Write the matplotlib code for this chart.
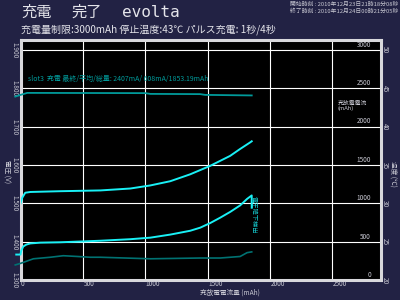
import matplotlib
matplotlib.use("Agg")
import matplotlib.pyplot as plt
import matplotlib.transforms as mtransforms

plt.rcParams['font.family'] = ['Noto Sans CJK JP', 'DejaVu Sans']

# ---- data ----
# voltage curve A (upper cyan)
cap_a = [0, 14, 38, 79, 319, 640, 880, 1040, 1200, 1360, 1440, 1520, 1600, 1680, 1760, 1840, 1853]
volt_a = [1.500, 1.515, 1.528, 1.530, 1.532, 1.534, 1.539, 1.547, 1.558, 1.576, 1.587,
          1.598, 1.611, 1.624, 1.642, 1.659, 1.662]

# voltage curve B (lower cyan), ends with the drop at detection
cap_b = [-34, 0, 6, 22, 47, 79, 159, 319, 640, 880, 1040, 1200, 1360, 1440, 1520,
         1600, 1680, 1760, 1816, 1853, 1853]
volt_b = [1.367, 1.367, 1.377, 1.388, 1.393, 1.396, 1.398, 1.399, 1.403, 1.407, 1.411,
          1.419, 1.429, 1.437, 1.449, 1.463, 1.478, 1.495, 1.512, 1.521, 1.489]

# charge current (teal)
cap_i = [-42, 0, 54, 1000, 1040, 1440, 1480, 1853]
current = [2392, 2414, 2440, 2437, 2427, 2424, 2414, 2407]

# temperature (dark teal)
cap_t = [-42, 0, 103, 239, 343, 455, 559, 640, 1040, 1440, 1600, 1760, 1816, 1853]
temp = [22.0, 22.2, 22.8, 23.0, 23.2, 23.1, 23.0, 23.0, 22.8, 22.9, 22.9, 23.1, 23.6, 23.7]

x_ticks = [0, 500, 1000, 1500, 2000, 2500]
v_ticks = [1.3, 1.4, 1.5, 1.6, 1.7, 1.8, 1.9]
i_ticks = [0, 500, 1000, 1500, 2000, 2500, 3000]
t_ticks = [20, 25, 30, 35, 40, 45, 50]

title_words = ["充電", "完了"]
title_en = "evolta"
subtitle = "充電量制限:3000mAh 停止温度:43℃ パルス充電: 1秒/4秒"
start_time = "開始時刻 : 2010年12月23日21時18分08秒"
end_time = "終了時刻 : 2010年12月24日00時21分05秒"
legend_txt = "slot3  充電 最終/平均/総量: 2407mA/ 608mA/1853.19mAh"
detect_txt = "電圧降下検出"

bg = '#222244'
fg = '#c8c8d2'
cyan = '#19f0f5'
teal = '#009a9a'
dteal = '#007272'

fig = plt.figure(figsize=(4, 3), dpi=100, facecolor=bg)
ax = fig.add_axes([0.05125, 0.0657, 0.9, 0.8])
ax.set_facecolor('black')
ax.set_xlim(0, 2885)
ax.set_ylim(1.3, 1.925)
ax.set_xticks([])
ax.set_yticks([])
for s in ax.spines.values():
    s.set_color('#d8d8dc')
    s.set_linewidth(2.2)
for xv in x_ticks[1:]:
    ax.axvline(xv, color='white', lw=0.8, zorder=1)
for yv in v_ticks[1:]:
    ax.axhline(yv, color='white', lw=0.8, zorder=1)

ax_i = ax.twinx()
ax_i.set_ylim(0, 3000 * 0.625 / 0.6)
ax_t = ax.twinx()
ax_t.set_ylim(20, 20 + 30 * 0.625 / 0.6)
for a in (ax_i, ax_t):
    a.set_yticks([])
    for s in a.spines.values():
        s.set_visible(False)

ax.plot(cap_a, volt_a, color=cyan, lw=1.4, zorder=3)
ax.plot(cap_b, volt_b, color=cyan, lw=1.4, zorder=3, clip_on=False)
ax_i.plot(cap_i, current, color=teal, lw=1.3, zorder=3, clip_on=False)
ax_t.plot(cap_t, temp, color=dteal, lw=1.2, zorder=3, clip_on=False)

ax.text(1870, 1.47, detect_txt, color=cyan, fontsize=4.5, rotation=-90,
        ha='center', va='center', alpha=0.85)
ax.text(0.02, 0.84, legend_txt, transform=ax.transAxes, color=teal, fontsize=5,
        ha='left', va='center')

# tick labels
bx = mtransforms.blended_transform_factory(ax.transData, fig.transFigure)
for xv in x_ticks:
    ax.text(xv + 5, 1 - 284.5 / 300, str(xv), transform=bx, fontsize=4.6, color=fg,
            ha='left', va='center')
by = mtransforms.blended_transform_factory(fig.transFigure, ax.transData)
for yv in v_ticks:
    ax.text(14 / 400, yv, "%.3f" % yv, transform=by, fontsize=4.6, color=fg,
            rotation=-90, ha='center', va='center')
byi = mtransforms.blended_transform_factory(fig.transFigure, ax_i.transData)
for iv in i_ticks:
    ax_i.text(371 / 400, iv + 70, str(iv), transform=byi, fontsize=4.6, color=fg,
              ha='right', va='center')
byt = mtransforms.blended_transform_factory(fig.transFigure, ax_t.transData)
for tv in t_ticks:
    ax_t.text(385 / 400, tv, str(tv), transform=byt, fontsize=4.6, color=fg,
              rotation=-90, ha='center', va='center')

ax.text(338 / 400, 1 - 106 / 300, "充放電電流\n(mAh)", transform=fig.transFigure,
        fontsize=4.2, color=fg, ha='left', va='center', linespacing=0.9)
fig.text(230 / 400, 1 - 293 / 300, "充放電電流量 (mAh)", fontsize=4.8, color=fg,
         ha='center', va='center')
fig.text(6 / 400, 1 - 172 / 300, "電圧 (V)", fontsize=4.8, color=fg,
         rotation=-90, ha='center', va='center')
fig.text(393 / 400, 1 - 174 / 300, "温度 (℃)", fontsize=4.8, color=fg,
         rotation=-90, ha='center', va='center')

for word, xp in zip(title_words, [21, 71]):
    fig.text(xp / 400, 1 - 12 / 300, word, fontsize=11, color='#e4e4ea',
             ha='left', va='center')
fig.text(122 / 400, 1 - 12.5 / 300, title_en, fontsize=11.5, color='#e4e4ea',
         family='DejaVu Sans Mono', ha='left', va='center')
fig.text(21 / 400, 1 - 30 / 300, subtitle, fontsize=7.2, color='#e4e4ea',
         ha='left', va='center')
fig.text(398 / 400, 1 - 4 / 300, start_time, fontsize=4.2, color=fg,
         ha='right', va='center')
fig.text(398 / 400, 1 - 11.5 / 300, end_time, fontsize=4.2, color=fg,
         ha='right', va='center')

fig.savefig('out.png', dpi=100, facecolor=bg)
